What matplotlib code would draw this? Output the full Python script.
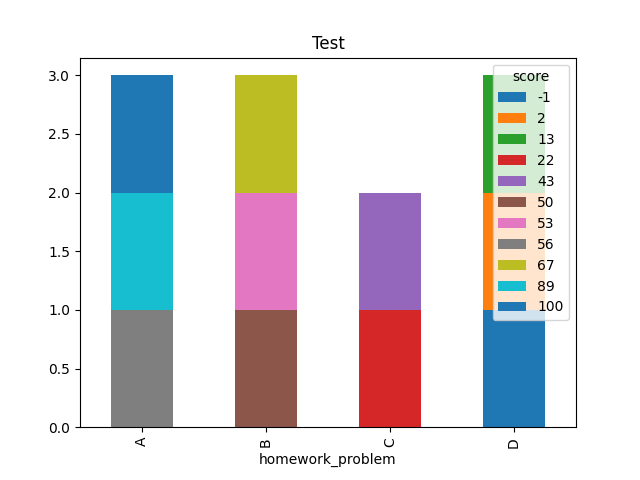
import matplotlib
matplotlib.use("Agg")
import matplotlib.pyplot as plt
import pandas as pd

homework_problem = ["A", "A", "A", "B", "B", "B", "C", "C", "D", "D", "D"]
score = [56, 89, 100, 50, 53, 67, 22, 43, -1, 2, 13]

df = pd.DataFrame({"homework_problem": homework_problem, "score": score})
table = pd.crosstab(df["homework_problem"], df["score"])

fig, ax = plt.subplots(figsize=(6.4, 4.8), dpi=100)
table.plot(kind="bar", stacked=True, ax=ax, title="Test")
fig.savefig("out.png", dpi=100)
